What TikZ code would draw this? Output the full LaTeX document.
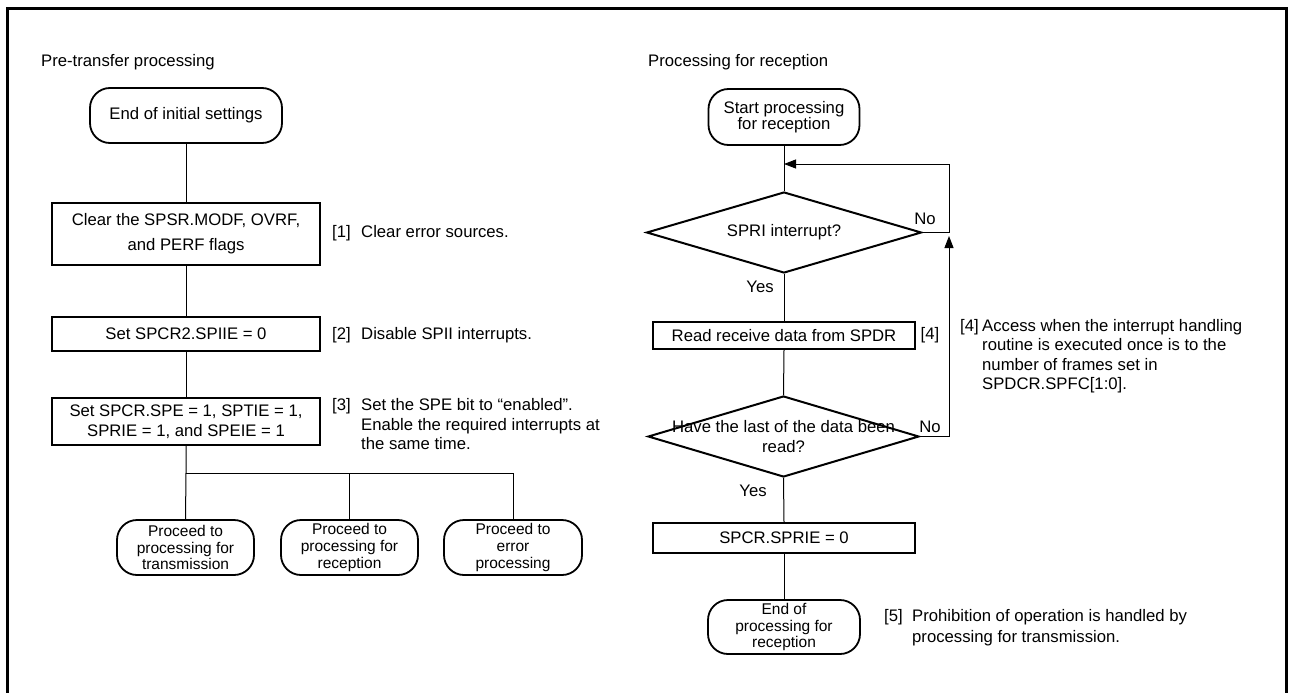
\documentclass[tikz,border=0pt]{standalone}
\usepackage{fontspec}
\setmainfont{Liberation Sans}
\usetikzlibrary{shapes.geometric,arrows.meta}
\begin{document}
\begin{tikzpicture}[x=1pt,y=-1pt,
  every node/.style={font=\fontsize{16.7}{19.5}\selectfont, inner sep=0pt},
  procbox/.style={draw, line width=2pt, align=center},
  term/.style={draw, line width=1.8pt, rounded corners=20pt, align=center},
  smallterm/.style={term, font=\fontsize{15.5}{16.8}\selectfont},
  dec/.style={draw, diamond, line width=2pt, inner sep=0pt},
  conn/.style={line width=1pt},
  arr/.style={conn, -{Triangle[length=12pt,width=9pt]}},
  note/.style={anchor=west, align=left}]
\useasboundingbox (0,0) rectangle (1290,693);
% frame
\draw[line width=3pt] (7,700) -- (7,8.5) -- (1286.5,8.5) -- (1286.5,700);

% ---------- left flow ----------
\node[anchor=west] (tl) at (41,62) {Pre-transfer processing};
\node[term, minimum width=192pt, minimum height=55pt] (t0) at (186,115.5) {End of initial settings};
\node[procbox, minimum width=268pt, minimum height=62pt, font=\fontsize{16.7}{25}\selectfont] (b1) at (186,234) {Clear the SPSR.MODF, OVRF,\\and PERF flags};
\node[procbox, minimum width=268pt, minimum height=34pt] (b2) at (186,334) {Set SPCR2.SPIIE = 0};
\node[procbox, minimum width=268pt, minimum height=47pt, font=\fontsize{16.7}{20}\selectfont] (b3) at (186,421.5) {Set SPCR.SPE = 1, SPTIE = 1,\\SPRIE = 1, and SPEIE = 1};
\coordinate (br) at (186,473);
\node[smallterm, minimum width=137pt, minimum height=55pt] (p1) at (185.5,547.5) {Proceed to\\processing for\\transmission};
\node[smallterm, minimum width=137pt, minimum height=55pt] (p2) at (349.5,547.5) {Proceed to\\processing for\\reception};
\node[smallterm, minimum width=138pt, minimum height=55pt] (p3) at (513,547.5) {Proceed to\\error\\processing};

\draw[conn] (t0.south) -- (b1.north);
\draw[conn] (b1.south) -- (b2.north);
\draw[conn] (b2.south) -- (b3.north);
\draw[conn] (b3.south) -- (br) -- (p1.north);
\draw[conn] (br) -| (p2.north);
\draw[conn] (br) -| (p3.north);

\node[note] (n1) at (332,234) {\begin{tabular}{@{}p{29pt}@{}l@{}}[1]&Clear error sources.\end{tabular}};
\node[note] (n2) at (332,336) {\begin{tabular}{@{}p{29pt}@{}l@{}}[2]&Disable SPII interrupts.\end{tabular}};
\node[note] (n3) at (332,426.5) {\begin{tabular}{@{}p{29pt}@{}l@{}}[3]&Set the SPE bit to “enabled”.\\&Enable the required interrupts at\\&the same time.\end{tabular}};

% ---------- right flow ----------
\node[anchor=west] (tr) at (648,62) {Processing for reception};
\node[term, minimum width=151pt, minimum height=56pt, font=\fontsize{16.7}{16}\selectfont] (s) at (784,117) {Start processing\\for reception};
\coordinate (j1) at (784,164);
\coordinate (c1) at (949,164);
\coordinate (c3) at (949,236);
\node[dec, minimum width=275pt, minimum height=81pt, label=center:SPRI interrupt?] (d1) at (784,232.5) {};
\node[procbox, minimum width=262pt, minimum height=27pt] (r) at (784,335.5) {Read receive data from SPDR};
\node (r4) at (930,335) {[4]};
\node[dec, minimum width=271pt, minimum height=81pt, label={[align=center, font=\fontsize{16.7}{20}\selectfont]center:{Have the last of the data been\\read?}}] (d2) at (783.5,436.5) {};
\node[procbox, minimum width=262pt, minimum height=30pt] (sp) at (784,538) {SPCR.SPRIE = 0};
\node[smallterm, minimum width=152pt, minimum height=54pt] (e) at (784,627) {End of\\processing for\\reception};

\draw[conn] (s.south) -- (d1.north);
\draw[arr] (d1.east) -| (c1) -- (j1);
\draw[conn] (d1.south) -- (r.north);
\draw[conn] (r.south) -- (d2.north);
\draw[arr] (d2.east) -| (c3);
\draw[conn] (d2.south) -- (sp.north);
\draw[conn] (sp.south) -- (e.north);

\node (y1) at (760,287) {Yes};
\node (no1) at (925,219) {No};
\node (no2) at (930,427) {No};
\node (y2) at (753,491) {Yes};

\node[note] (n4) at (960,356.5) {\begin{tabular}{@{}p{22pt}@{}l@{}}[4]&Access when the interrupt handling\\&routine is executed once is to the\\&number of frames set in\\&SPDCR.SPFC[1:0].\end{tabular}};
\node[note, font=\fontsize{16.7}{21}\selectfont] (n5) at (884,627.5) {\begin{tabular}{@{}p{28pt}@{}l@{}}[5]&Prohibition of operation is handled by\\&processing for transmission.\end{tabular}};
\end{tikzpicture}
\end{document}
